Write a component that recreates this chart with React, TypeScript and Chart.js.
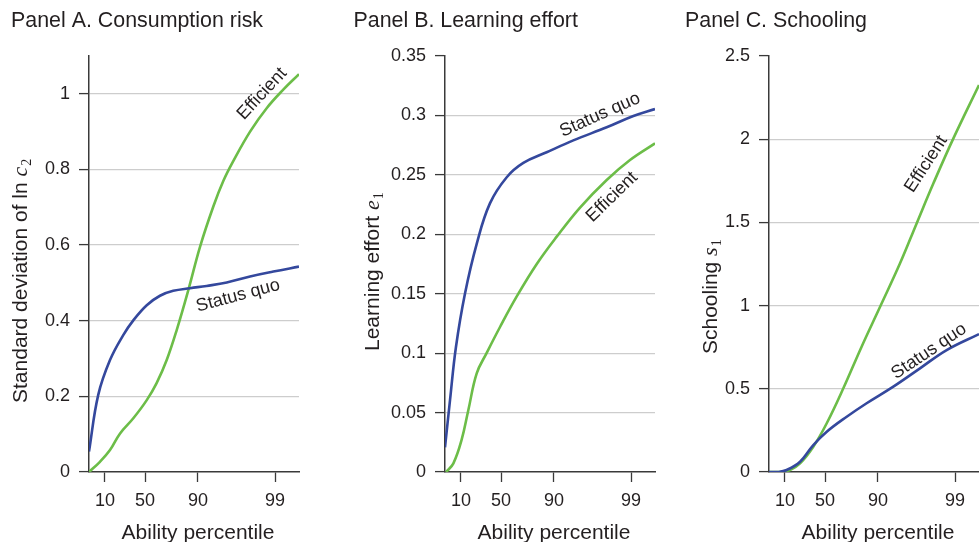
import { useEffect, useRef } from 'react';
import { Chart, registerables } from 'chart.js';

Chart.register(...registerables);

// Ability runs on a normalised index (0 = lowest type, 1 = highest type);
// the axis is labelled by the percentile each index position corresponds to.
const percentilePositions = [0.076, 0.267, 0.519, 0.886];
const percentileLabels = ['10', '50', '90', '99'];

// Panel A: standard deviation of ln c2
const riskTicks = [0, 0.2, 0.4, 0.6, 0.8, 1];
const riskAbilitySQ = [0, 0.044, 0.1, 0.163, 0.211, 0.275, 0.338, 0.401, 0.481, 0.56, 0.656, 0.767, 0.878, 1.0];
const riskStatusQuo = [0.054, 0.204, 0.296, 0.362, 0.401, 0.441, 0.466, 0.479, 0.486, 0.492, 0.501, 0.517, 0.53, 0.543];
const riskAbilityEff = [0, 0.052, 0.1, 0.148, 0.211, 0.275, 0.322, 0.37, 0.418, 0.473, 0.529, 0.592, 0.64, 0.687, 0.767, 0.846, 0.925, 1.0];
const riskEfficient = [0, 0.027, 0.058, 0.102, 0.142, 0.19, 0.235, 0.296, 0.376, 0.481, 0.596, 0.702, 0.77, 0.822, 0.9, 0.962, 1.011, 1.052];

// Panel B: learning effort e1
const effortTicks = [0, 0.05, 0.1, 0.15, 0.2, 0.25, 0.3, 0.35];
const effortAbilitySQ = [0, 0.024, 0.052, 0.095, 0.151, 0.214, 0.294, 0.373, 0.484, 0.611, 0.77, 0.897, 1.0];
const effortStatusQuo = [0.0208, 0.0606, 0.105, 0.15, 0.192, 0.226, 0.248, 0.26, 0.269, 0.279, 0.29, 0.2995, 0.3054];
const effortAbilityEff = [0.005, 0.04, 0.079, 0.111, 0.151, 0.198, 0.262, 0.341, 0.437, 0.532, 0.643, 0.77, 0.881, 1.0];
const effortEfficient = [0, 0.0073, 0.027, 0.052, 0.083, 0.1, 0.122, 0.1475, 0.175, 0.198, 0.2225, 0.2457, 0.2625, 0.2765];

// Panel C: schooling s1
const schoolTicks = [0, 0.5, 1, 1.5, 2, 2.5];
const schoolAbilitySQ = [0, 0.044, 0.084, 0.148, 0.211, 0.275, 0.37, 0.465, 0.592, 0.719, 0.846, 1.0];
const schoolStatusQuo = [0, 0, 0.012, 0.062, 0.162, 0.242, 0.332, 0.413, 0.513, 0.623, 0.733, 0.829];
const schoolAbilityEff = [0, 0.052, 0.1, 0.148, 0.211, 0.275, 0.354, 0.441, 0.529, 0.624, 0.703, 0.783, 0.878, 1.0];
const schoolEfficient = [0, 0, 0.012, 0.052, 0.152, 0.293, 0.503, 0.753, 0.993, 1.254, 1.494, 1.735, 2.005, 2.326];

const BLUE = '#34489d';
const GREEN = '#6cbd48';
const INK = '#231f20';
const AXIS = '#3a3a3a';
const GRID = '#cdcdcd';
const SANS = '"Liberation Sans", Arial, Helvetica, sans-serif';
const SERIF = '"Liberation Serif", "Times New Roman", serif';

type CurveLabel = { text: string; x: number; y: number; angle: number };

type PanelSpec = {
  left: number;
  width: number;
  axisWidth: number;
  padRight: number;
  title: string;
  titleX: number;
  yTitle: string;
  yVar: string;
  ySub: string;
  yTitleX: number;
  yTitleY: number;
  yMax: number;
  yTicks: number[];
  sq: { x: number[]; y: number[] };
  eff: { x: number[]; y: number[] };
  labels: CurveLabel[];
};

const zip = (xs: number[], ys: number[]) => xs.map((x, i) => ({ x, y: ys[i] }));

const panels: PanelSpec[] = [
  {
    left: 0,
    width: 330,
    axisWidth: 89,
    padRight: 31,
    title: 'Panel A. Consumption risk',
    titleX: 11,
    yTitle: 'Standard deviation of ln ',
    yVar: 'c',
    ySub: '2',
    yTitleX: 27,
    yTitleY: 403,
    yMax: 1.1,
    yTicks: riskTicks,
    sq: { x: riskAbilitySQ, y: riskStatusQuo },
    eff: { x: riskAbilityEff, y: riskEfficient },
    labels: [
      { text: 'Efficient', x: 0.824, y: 1.0, angle: -47 },
      { text: 'Status quo', x: 0.71, y: 0.466, angle: -15 },
    ],
  },
  {
    left: 340,
    width: 330,
    axisWidth: 105,
    padRight: 15,
    title: 'Panel B. Learning effort',
    titleX: 13.5,
    yTitle: 'Learning effort ',
    yVar: 'e',
    ySub: '1',
    yTitleX: 38.5,
    yTitleY: 351,
    yMax: 0.35,
    yTicks: effortTicks,
    sq: { x: effortAbilitySQ, y: effortStatusQuo },
    eff: { x: effortAbilityEff, y: effortEfficient },
    labels: [
      { text: 'Status quo', x: 0.738, y: 0.3005, angle: -24 },
      { text: 'Efficient', x: 0.795, y: 0.2314, angle: -44 },
    ],
  },
  {
    left: 680,
    width: 299,
    axisWidth: 89,
    padRight: 0,
    title: 'Panel C. Schooling',
    titleX: 5,
    yTitle: 'Schooling ',
    yVar: 's',
    ySub: '1',
    yTitleX: 37,
    yTitleY: 354,
    yMax: 2.5,
    yTicks: schoolTicks,
    sq: { x: schoolAbilitySQ, y: schoolStatusQuo },
    eff: { x: schoolAbilityEff, y: schoolEfficient },
    labels: [
      { text: 'Efficient', x: 0.748, y: 1.85, angle: -57 },
      { text: 'Status quo', x: 0.762, y: 0.725, angle: -34 },
    ],
  },
];

const fmt = (v: number) => String(+v.toFixed(2));

function buildChart(canvas: HTMLCanvasElement, spec: PanelSpec) {
  const textPlugin = {
    id: 'panelText',
    afterDraw(chart: Chart) {
      const { ctx, chartArea, scales } = chart;
      ctx.save();
      ctx.fillStyle = INK;
      ctx.textBaseline = 'alphabetic';

      // panel heading
      ctx.font = `21.4px ${SANS}`;
      ctx.textAlign = 'left';
      ctx.fillText(spec.title, spec.titleX, 27);

      // x-axis title
      ctx.font = `21px ${SANS}`;
      ctx.textAlign = 'center';
      ctx.fillText('Ability percentile', (chartArea.left + chartArea.right) / 2 + 4, 539);

      // y-axis title with italic variable and subscript
      ctx.save();
      ctx.translate(spec.yTitleX, spec.yTitleY);
      ctx.rotate(-Math.PI / 2);
      ctx.textAlign = 'left';
      ctx.font = `21px ${SANS}`;
      ctx.fillText(spec.yTitle, 0, 0);
      let w = ctx.measureText(spec.yTitle).width;
      ctx.font = `italic 22px ${SERIF}`;
      ctx.fillText(spec.yVar, w, 0);
      w += ctx.measureText(spec.yVar).width;
      ctx.font = `14px ${SERIF}`;
      ctx.fillText(spec.ySub, w + 1, 4);
      ctx.restore();

      // curve labels
      ctx.font = `18px ${SANS}`;
      ctx.textAlign = 'center';
      ctx.textBaseline = 'middle';
      for (const lab of spec.labels) {
        const px = scales.x.getPixelForValue(lab.x);
        const py = scales.y.getPixelForValue(lab.y);
        ctx.save();
        ctx.translate(px, py);
        ctx.rotate((lab.angle * Math.PI) / 180);
        ctx.fillText(lab.text, 0, 0);
        ctx.restore();
      }
      ctx.restore();
    },
  };

  const tickFont = { family: SANS, size: 18 };

  return new Chart(canvas, {
    type: 'line',
    data: {
      datasets: [
        {
          label: 'Status quo',
          data: zip(spec.sq.x, spec.sq.y),
          borderColor: BLUE,
          backgroundColor: BLUE,
        },
        {
          label: 'Efficient',
          data: zip(spec.eff.x, spec.eff.y),
          borderColor: GREEN,
          backgroundColor: GREEN,
        },
      ],
    },
    options: {
      animation: false,
      responsive: false,
      devicePixelRatio: 1,
      layout: { padding: { left: 0, right: spec.padRight, top: 56, bottom: 0 } },
      elements: {
        point: { radius: 0 },
        line: { borderWidth: 2.6, tension: 0.4, fill: false, capBezierPoints: true },
      },
      plugins: {
        legend: { display: false },
        tooltip: { enabled: false },
        title: { display: false },
      },
      scales: {
        x: {
          type: 'linear',
          min: 0,
          max: 1,
          afterFit: (s: any) => {
            s.height = 70;
          },
          afterBuildTicks: (s: any) => {
            s.ticks = percentilePositions.map((value) => ({ value }));
          },
          ticks: {
            autoSkip: false,
            maxRotation: 0,
            minRotation: 0,
            padding: 8,
            color: INK,
            font: tickFont,
            callback: (_v: any, i: number) => percentileLabels[i],
          },
          grid: {
            drawOnChartArea: false,
            drawTicks: true,
            tickLength: 10,
            tickColor: AXIS,
            tickWidth: 1.3,
          },
          border: { display: true, color: AXIS, width: 1.5 },
        },
        y: {
          type: 'linear',
          min: 0,
          max: spec.yMax,
          afterFit: (s: any) => {
            s.width = spec.axisWidth;
          },
          afterBuildTicks: (s: any) => {
            s.ticks = spec.yTicks.map((value) => ({ value }));
          },
          ticks: {
            padding: 9,
            color: INK,
            font: tickFont,
            callback: (v: any) => fmt(Number(v)),
          },
          grid: {
            color: (c: any) => {
              const v = c.tick ? c.tick.value : 0;
              return v > 1e-9 && v < spec.yMax - 1e-9 ? GRID : 'rgba(0,0,0,0)';
            },
            lineWidth: 1.2,
            drawTicks: true,
            tickLength: 10,
            tickColor: AXIS,
            tickWidth: 1.3,
          },
          border: { display: true, color: AXIS, width: 1.5 },
        },
      },
    },
    plugins: [textPlugin],
  } as any);
}

function Panel({ spec }: { spec: PanelSpec }) {
  const ref = useRef<HTMLCanvasElement | null>(null);
  useEffect(() => {
    if (!ref.current) return;
    const chart = buildChart(ref.current, spec);
    return () => chart.destroy();
  }, [spec]);
  return (
    <canvas
      ref={ref}
      width={spec.width}
      height={542}
      style={{ position: 'absolute', left: spec.left, top: 0, width: spec.width, height: 542 }}
    />
  );
}

export default function App() {
  useEffect(() => {
    document.body.style.margin = '0';
    document.body.style.background = '#ffffff';
  }, []);
  return (
    <div style={{ position: 'relative', width: 979, height: 542, background: '#ffffff', overflow: 'hidden' }}>
      {panels.map((p) => (
        <Panel key={p.title} spec={p} />
      ))}
    </div>
  );
}
